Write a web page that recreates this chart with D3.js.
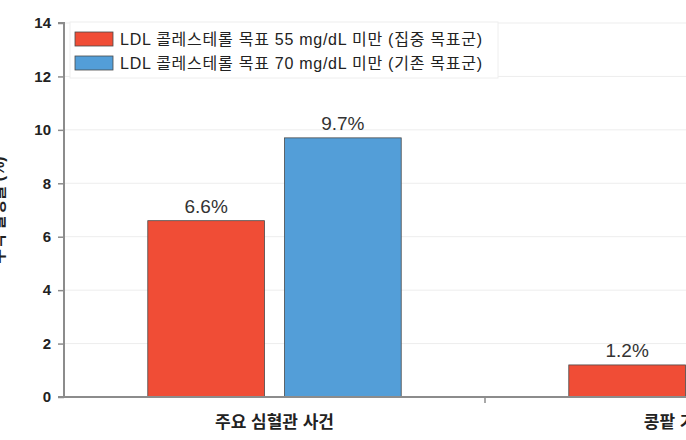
<!DOCTYPE html>
<html><head><meta charset="utf-8">
<script src="https://cdn.jsdelivr.net/npm/d3@7"></script>
<style>
html,body{margin:0;padding:0;background:#fff;}
svg{display:block;font-family:"Liberation Sans",Arial,"Noto Sans CJK KR",sans-serif;}
</style></head><body>
<svg id="c" width="686" height="440"></svg>
<script>
const categories = ["주요 심혈관 사건", "콩팥 기능 악화"];
const seriesNames = ["LDL 콜레스테롤 목표 55 mg/dL 미만 (집중 목표군)", "LDL 콜레스테롤 목표 70 mg/dL 미만 (기존 목표군)"];
const intensiveValues = [6.6, 1.2];
const conventionalValues = [9.7, 1.6];
const yTicks = [0, 2, 4, 6, 8, 10, 12, 14];
const yTitle = "누적 발생률 (%)";
const colors = ["#F04D36", "#539ED8"];

const svg = d3.select("#c");
const mLeft = 64, mBottom = 397, mTop = 23, bandW = 421;
const x = d3.scaleBand().domain(categories).range([mLeft, mLeft + bandW * categories.length]).paddingInner(0).paddingOuter(0);
const xs = d3.scaleBand().domain([0, 1]).range([0, x.bandwidth()]).paddingInner(0.146).paddingOuter(0.613);
const y = d3.scaleLinear().domain([0, 14]).range([mBottom, mTop]);

// gridlines
svg.append("g").selectAll("line").data(yTicks.filter(d => d > 0)).join("line")
  .attr("x1", mLeft).attr("x2", 686).attr("y1", d => y(d)).attr("y2", d => y(d))
  .attr("stroke", "#ededed").attr("stroke-width", 1);

// bars
const data = [];
categories.forEach((c, i) => {
  data.push({c, s: 0, v: intensiveValues[i]});
  data.push({c, s: 1, v: conventionalValues[i]});
});
svg.append("g").selectAll("rect").data(data).join("rect")
  .attr("x", d => x(d.c) + xs(d.s))
  .attr("width", xs.bandwidth())
  .attr("y", d => y(d.v))
  .attr("height", d => y(0) - y(d.v))
  .attr("fill", d => colors[d.s])
  .attr("stroke", "#4a4a4a").attr("stroke-width", 0.8);

// value labels
svg.append("g").selectAll("text").data(data).join("text")
  .attr("x", d => x(d.c) + xs(d.s) + xs.bandwidth() / 2)
  .attr("y", d => y(d.v) - 8)
  .attr("text-anchor", "middle")
  .attr("font-size", 19).attr("fill", "#333")
  .text(d => d.v.toFixed(1) + "%");

// y axis
const yAxis = d3.axisLeft(y).tickValues(yTicks).tickSize(6).tickPadding(7);
const gy = svg.append("g").attr("transform", `translate(${mLeft},0)`).call(yAxis);
gy.select(".domain").attr("stroke", "#8c8c8c").attr("stroke-width", 2).attr("d", `M-6,${mTop}H0V${mBottom}H-6`);
gy.selectAll(".tick line").attr("stroke", "#8c8c8c").attr("stroke-width", 1.5);
gy.selectAll(".tick text").attr("font-size", 15).attr("font-weight", "bold").attr("fill", "#222")
  .attr("font-family", "'Liberation Sans',Arial,sans-serif");

// x axis baseline and category dividers
svg.append("line").attr("x1", mLeft).attr("x2", 686).attr("y1", mBottom).attr("y2", mBottom)
  .attr("stroke", "#8c8c8c").attr("stroke-width", 2);
svg.append("g").selectAll("line").data(categories).join("line")
  .attr("x1", d => x(d) + x.bandwidth()).attr("x2", d => x(d) + x.bandwidth())
  .attr("y1", mBottom).attr("y2", mBottom + 6)
  .attr("stroke", "#8c8c8c").attr("stroke-width", 1.5);
svg.append("g").selectAll("text").data(categories).join("text")
  .attr("x", d => x(d) + x.bandwidth() / 2)
  .attr("y", 428)
  .attr("text-anchor", "middle")
  .attr("font-size", 17).attr("font-weight", "bold").attr("fill", "#222")
  .text(d => d);

// y title
svg.append("text")
  .attr("transform", `translate(-2,${(mTop + mBottom) / 2}) rotate(-90)`)
  .attr("text-anchor", "middle").attr("dominant-baseline", "central")
  .attr("font-size", 16).attr("font-weight", "bold").attr("fill", "#222")
  .text(yTitle);

// legend
const lg = svg.append("g");
lg.append("rect").attr("x", 70).attr("y", 22).attr("width", 428).attr("height", 56)
  .attr("fill", "#fff").attr("stroke", "#eeeeee").attr("stroke-width", 1);
seriesNames.forEach((n, i) => {
  lg.append("rect").attr("x", 75).attr("y", 32 + i * 24).attr("width", 38).attr("height", 14)
    .attr("fill", colors[i]).attr("stroke", "#4a4a4a").attr("stroke-width", 0.8);
  lg.append("text").attr("x", 120).attr("y", 39 + i * 24).attr("dominant-baseline", "central")
    .attr("font-size", 16).attr("fill", "#222")
    .attr("textLength", 362).attr("lengthAdjust", "spacing")
    .text(n);
});
</script>
</body></html>
